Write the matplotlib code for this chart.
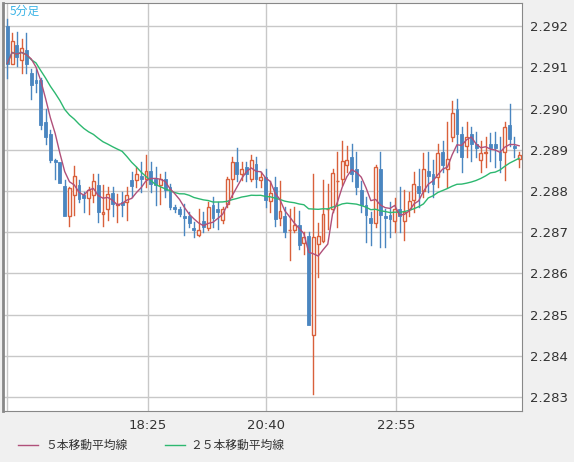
import numpy as np
import pandas as pd
import matplotlib
matplotlib.use("Agg")
import matplotlib.pyplot as plt
from matplotlib.lines import Line2D
from matplotlib.patches import Rectangle

plt.rcParams['font.family'] = ['Noto Sans CJK JP', 'DejaVu Sans']

opens = [2.29199,2.29109,2.29153,2.29117,2.29141,2.29087,2.29070,2.29070,2.28968,2.28937,
 2.28876,2.28869,2.28813,2.28740,2.28791,2.28815,2.28791,2.28784,2.28791,2.28815,
 2.28745,2.28757,2.28796,2.28767,2.28774,2.28774,2.28827,2.28827,2.28837,2.28830,
 2.28849,2.28830,2.28815,2.28830,2.28809,2.28762,2.28757,2.28738,2.28740,2.28711,
 2.28694,2.28728,2.28711,2.28767,2.28757,2.28730,2.28769,2.28830,2.28869,2.28840,
 2.28857,2.28830,2.28866,2.28827,2.28835,2.28776,2.28809,2.28735,2.28740,2.28704,
 2.28704,2.28718,2.28674,2.28691,2.28451,2.28672,2.28679,2.28755,2.28757,2.28823,
 2.28830,2.28864,2.28883,2.28854,2.28803,2.28767,2.28735,2.28723,2.28852,2.28740,
 2.28742,2.28728,2.28755,2.28728,2.28755,2.28779,2.28813,2.28801,2.28849,2.28840,
 2.28835,2.28895,2.28852,2.28932,2.29000,2.28937,2.28910,2.28937,2.28915,2.28874,
 2.28891,2.28913,2.28915,2.28895,2.28895,2.28961,2.28908,2.28878]
closes = [2.29109,2.29163,2.29124,2.29148,2.29109,2.29058,2.29063,2.28961,2.28930,2.28876,
 2.28869,2.28820,2.28740,2.28806,2.28837,2.28781,2.28784,2.28803,2.28825,2.28750,
 2.28750,2.28793,2.28769,2.28769,2.28767,2.28791,2.28813,2.28840,2.28830,2.28849,
 2.28818,2.28815,2.28830,2.28803,2.28762,2.28757,2.28745,2.28735,2.28721,2.28704,
 2.28706,2.28713,2.28762,2.28735,2.28750,2.28755,2.28830,2.28871,2.28840,2.28854,
 2.28840,2.28874,2.28830,2.28835,2.28779,2.28796,2.28733,2.28752,2.28701,2.28706,
 2.28718,2.28670,2.28687,2.28475,2.28687,2.28691,2.28745,2.28757,2.28844,2.28825,
 2.28872,2.28876,2.28842,2.28810,2.28767,2.28742,2.28721,2.28857,2.28742,2.28735,
 2.28733,2.28757,2.28740,2.28750,2.28776,2.28818,2.28796,2.28854,2.28837,2.28818,
 2.28891,2.28864,2.28878,2.28988,2.28939,2.28883,2.28932,2.28913,2.28903,2.28893,
 2.28895,2.28903,2.28903,2.28874,2.28956,2.28927,2.28903,2.28888]
highs = [2.29216,2.29182,2.29185,2.29168,2.29182,2.29097,2.29097,2.29073,2.29000,2.28949,
 2.28878,2.28871,2.28827,2.28810,2.28861,2.28827,2.28798,2.28810,2.28842,2.28842,
 2.28815,2.28810,2.28810,2.28793,2.28798,2.28810,2.28847,2.28859,2.28871,2.28888,
 2.28871,2.28859,2.28842,2.28847,2.28818,2.28767,2.28762,2.28769,2.28750,2.28725,
 2.28755,2.28750,2.28774,2.28786,2.28774,2.28762,2.28835,2.28883,2.28903,2.28871,
 2.28871,2.28888,2.28883,2.28847,2.28852,2.28823,2.28835,2.28825,2.28762,2.28755,
 2.28762,2.28752,2.28701,2.28701,2.28840,2.28721,2.28827,2.28818,2.28852,2.28895,
 2.28920,2.28908,2.28913,2.28895,2.28823,2.28786,2.28750,2.28864,2.28895,2.28755,
 2.28774,2.28784,2.28810,2.28803,2.28798,2.28847,2.28852,2.28891,2.28895,2.28876,
 2.28913,2.28920,2.28968,2.29017,2.29024,2.28956,2.28968,2.28956,2.28944,2.28920,
 2.28932,2.28940,2.28944,2.28932,2.28968,2.29012,2.28932,2.28895]
lows = [2.29073,2.29107,2.29102,2.29087,2.29085,2.29022,2.29041,2.28951,2.28913,2.28871,
 2.28830,2.28820,2.28738,2.28716,2.28742,2.28774,2.28750,2.28745,2.28774,2.28725,
 2.28716,2.28730,2.28738,2.28725,2.28738,2.28730,2.28786,2.28810,2.28798,2.28809,
 2.28798,2.28767,2.28769,2.28786,2.28755,2.28750,2.28738,2.28694,2.28713,2.28689,
 2.28691,2.28701,2.28706,2.28713,2.28708,2.28721,2.28762,2.28786,2.28823,2.28827,
 2.28823,2.28823,2.28810,2.28810,2.28762,2.28750,2.28716,2.28718,2.28689,2.28633,
 2.28701,2.28660,2.28648,2.28475,2.28307,2.28592,2.28677,2.28708,2.28750,2.28713,
 2.28815,2.28847,2.28823,2.28793,2.28750,2.28677,2.28670,2.28713,2.28665,2.28665,
 2.28687,2.28701,2.28701,2.28682,2.28738,2.28750,2.28762,2.28786,2.28798,2.28786,
 2.28810,2.28847,2.28810,2.28920,2.28895,2.28847,2.28883,2.28872,2.28883,2.28847,
 2.28859,2.28872,2.28859,2.28847,2.28827,2.28908,2.28883,2.28859]

tick_labels = ['', '18:25', '20:40', '22:55']
tick_pos = [0, 29.4, 54.1, 81.3]
yticks = [2.283, 2.284, 2.285, 2.286, 2.287, 2.288, 2.289, 2.290, 2.291, 2.292]

UP = '#d9603b'
DOWN = '#4a86c0'
MA5C = '#b0507a'
MA25C = '#2db870'

s = pd.Series(closes)
ma5 = s.rolling(5, min_periods=1).mean()
ma25 = s.rolling(25, min_periods=1).mean()

fig = plt.figure(figsize=(5.74, 4.62), dpi=100)
fig.patch.set_facecolor('#f0f0f0')
ax = fig.add_axes([3/574, 51/462, 519/574, 408/462])
ax.set_facecolor('white')
ax.set_xlim(-0.9, 107.6)
ax.set_ylim(2.28266, 2.29256)

for t in yticks:
    ax.axhline(t, color='#c8c8c8', lw=1, zorder=0)
for t in tick_pos:
    ax.axvline(t, color='#c8c8c8', lw=1, zorder=0)

w = 0.6
for i, (o, c, h, l) in enumerate(zip(opens, closes, highs, lows)):
    up = c >= o
    col = UP if up else DOWN
    lo, hi = min(o, c), max(o, c)
    ax.plot([i, i], [hi, h], color=col, lw=1, zorder=2)
    ax.plot([i, i], [l, lo], color=col, lw=1, zorder=2)
    if up:
        ax.add_patch(Rectangle((i - w/2, lo), w, max(hi - lo, 0.00002), facecolor='white',
                               edgecolor=col, lw=1, zorder=3))
    else:
        ax.add_patch(Rectangle((i - w/2, lo), w, max(hi - lo, 0.00002), facecolor=col,
                               edgecolor=col, lw=0.6, zorder=3))

x = np.arange(len(closes))
ax.plot(x, ma25, color=MA25C, lw=1, zorder=4)
ax.plot(x, ma5, color=MA5C, lw=1, zorder=4)

ax.yaxis.tick_right()
ax.set_yticks(yticks)
ax.set_yticklabels([f'{t:.3f}' for t in yticks], fontsize=9.5, color='#333333', family='DejaVu Sans')
ax.set_xticks(tick_pos)
ax.set_xticklabels(tick_labels, fontsize=9.5, color='#333333', family='DejaVu Sans')
ax.tick_params(length=0, pad=6)
for sp in ax.spines.values():
    sp.set_color('#888888')
ax.spines['left'].set_linewidth(2)

ax.text(0.012, 0.995, '5分足', transform=ax.transAxes, color='#3cb4e6', fontsize=8.5,
        va='top', ha='left')

fig.add_artist(Line2D([18/574, 38/574], [1-445/462]*2, color=MA5C, lw=1))
fig.text(45/574, 1-445/462, '５本移動平均線', fontsize=8.5, va='center', color='#333333')
fig.add_artist(Line2D([165/574, 185/574], [1-445/462]*2, color=MA25C, lw=1))
fig.text(190/574, 1-445/462, '２５本移動平均線', fontsize=8.5, va='center', color='#333333')

fig.savefig('out.png', dpi=100, facecolor=fig.get_facecolor())
